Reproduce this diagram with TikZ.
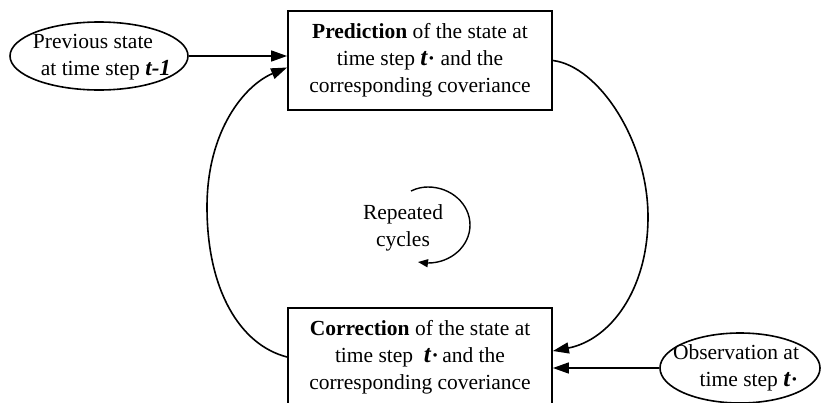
\documentclass[tikz,border=0pt]{standalone}
\usepackage{fontspec}
\setmainfont{Liberation Serif}
\usetikzlibrary{arrows.meta,shapes.geometric,calc}
\newcommand{\tb}{{\fontsize{25}{27}\selectfont\bfseries\itshape t}}
\begin{document}
\begin{tikzpicture}[x=1pt,y=-1pt,
  txt/.style={font=\fontsize{21.5}{27}\selectfont, align=center},
  boxnode/.style={txt, draw, line width=1.8pt, minimum width=264pt, inner sep=0pt},
  ellnode/.style={draw, ellipse, line width=1.6pt, inner sep=0pt},
  arr/.style={line width=1.6pt, -{Triangle[length=16pt,width=11pt]}},
  smallarr/.style={line width=1.4pt, -{Triangle[length=10pt,width=8pt]}}]
\useasboundingbox (0,0) rectangle (824,402);
\fill[white] (0,0) rectangle (824,402);

\node[boxnode, minimum height=99pt] (pred) at (420,60.5)
  {\textbf{Prediction} of the state at\\ time step \tb\textbf{·} and the\\ corresponding coveriance};
\node[boxnode, minimum height=98pt] (corr) at (420,357)
  {\textbf{Correction} of the state at\\ time step\ \ \tb\textbf{·}\,and the\\ corresponding coveriance};

\node[ellnode, minimum width=178pt, minimum height=68pt] (prev) at (99,56) {};
\node[txt] (prevtxt) at ($(prev.center)+(-6,1)$)
  {Previous state\\ \hspace*{1.2em}at time step {\fontsize{23}{27}\selectfont\bfseries\itshape t-1}};
\node[ellnode, minimum width=160pt, minimum height=70pt] (obs) at (740,368) {};
\node[txt] (obstxt) at ($(obs.center)+(-4,0)$)
  {Observation at\\ \hspace*{1.2em}time step \tb\textbf{·}};

\node[txt] (cyc) at (403,228) {Repeated\\ cycles};

% input arrows
\draw[arr] (prev.east) -- (prev.east -| pred.west);
\draw[arr] (obs.west) -- (obs.west -| corr.east);

% left loop: correction -> prediction
\coordinate (lin) at ($(pred.west)+(0,7)$);
\draw[arr] (corr.west) .. controls (240,345) and (207,290) .. (207,207)
  .. controls (207,130) and (245,85) .. (lin);

% right loop: prediction -> correction
\coordinate (rin) at ($(corr.east)+(0,-6)$);
\draw[arr] (pred.east) .. controls (598,66) and (648,140) .. (648,217)
  .. controls (648,290) and (610,340) .. (rin);

% repeated cycles arc
\draw[smallarr] (411,191) .. controls (417,188) and (423,187) .. (428,187)
  .. controls (451,187) and (470,204) .. (470,225)
  .. controls (470,246) and (451,263) .. (428,263)
  .. controls (425,263) and (422,262.5) .. (418,262);
\end{tikzpicture}
\end{document}
